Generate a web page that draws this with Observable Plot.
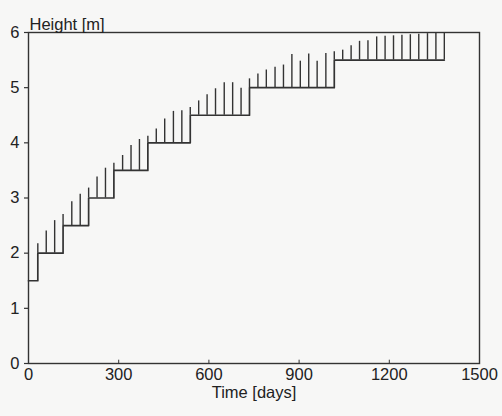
<!DOCTYPE html>
<html>
<head>
<meta charset="utf-8">
<script src="https://cdn.jsdelivr.net/npm/d3@7"></script>
<script src="https://cdn.jsdelivr.net/npm/@observablehq/plot@0.6"></script>
<style>
  html, body { margin: 0; padding: 0; background: #f7f7f6; }
  #chart svg { display: block; }
</style>
</head>
<body>
<div id="chart"></div>
<script>
// Staircase (applied height levels)
const stepDays   = [0, 31, 115, 200, 284, 397, 538, 735, 1017, 1383];
const stepLevels = [1.5, 2, 2.5, 3, 3.5, 4, 4.5, 5, 5.5, 5.5];

// Hatch lines (time, top of hatch)
const hatchDays = [31, 59, 87, 115, 144, 172, 200, 228, 256, 284, 313, 341, 369, 397, 425, 453, 482,
  510, 538, 566, 594, 622, 651, 679, 707, 735, 763, 791, 820, 848, 876, 904, 932, 960, 989, 1017,
  1045, 1073, 1101, 1129, 1158, 1186, 1214, 1242, 1270, 1298, 1327, 1355, 1383];
const hatchTops = [2.17, 2.40, 2.59, 2.70, 2.93, 3.07, 3.18, 3.38, 3.54, 3.63, 3.77, 3.95, 4.06, 4.12,
  4.25, 4.43, 4.57, 4.58, 4.64, 4.76, 4.87, 4.98, 5.09, 5.09, 4.99, 5.16, 5.25, 5.32, 5.37, 5.41,
  5.60, 5.48, 5.61, 5.48, 5.62, 5.65, 5.68, 5.76, 5.84, 5.85, 5.92, 5.93, 5.94, 5.95, 5.96, 5.97,
  5.98, 5.99, 6.0];

const xTicks = [0, 300, 600, 900, 1200, 1500];
const yTicks = [0, 1, 2, 3, 4, 5, 6];

const steps = stepDays.map((d, i) => ({day: d, level: stepLevels[i]}));
const levelAt = (t) => {
  let lv = stepLevels[0];
  for (let i = 0; i < stepDays.length; i++) if (stepDays[i] <= t) lv = stepLevels[i];
  return lv;
};
const hatches = hatchDays.map((d, i) => ({day: d, base: levelAt(d), top: hatchTops[i]}));

const ink = "#333";
const font = "'Liberation Sans', Arial, sans-serif";
const fs = 16.5;
const chart = Plot.plot({
  width: 502,
  height: 416,
  marginLeft: 28,
  marginRight: 23,
  marginTop: 32,
  marginBottom: 53,
  style: {fontFamily: font, fontSize: "16px", color: "#222", background: "transparent"},
  x: {domain: [0, 1500], ticks: xTicks},
  y: {domain: [0, 6], ticks: yTicks},
  marks: [
    Plot.frame({stroke: ink, strokeWidth: 1.4}),
    Plot.axisY(yTicks, {tickSize: 4, tickPadding: 5, label: null, stroke: ink, strokeWidth: 1.2,
      tickFormat: d => String(d), fontSize: fs, fill: "#222"}),
    Plot.axisX(xTicks, {tickSize: 0, tickPadding: 5, label: null,
      tickFormat: d => String(d), fontSize: fs, fill: "#222"}),
    Plot.ruleX(xTicks.slice(1, -1), {y1: 0, y2: 0.06, stroke: ink, strokeWidth: 1}),
    Plot.ruleX(hatches, {x: "day", y1: "base", y2: "top", stroke: ink, strokeWidth: 1.4}),
    Plot.line(steps, {x: "day", y: "level", curve: "step-after", stroke: ink, strokeWidth: 1.7}),
    Plot.text(["Height [m]"], {frameAnchor: "top-left", textAnchor: "start", dx: 1, dy: -14,
      fontSize: fs, fill: "#222"}),
    Plot.text(["Time [days]"], {frameAnchor: "bottom", dy: 34, fontSize: fs, fill: "#222"})
  ]
});
document.getElementById("chart").appendChild(chart);
</script>
</body>
</html>
